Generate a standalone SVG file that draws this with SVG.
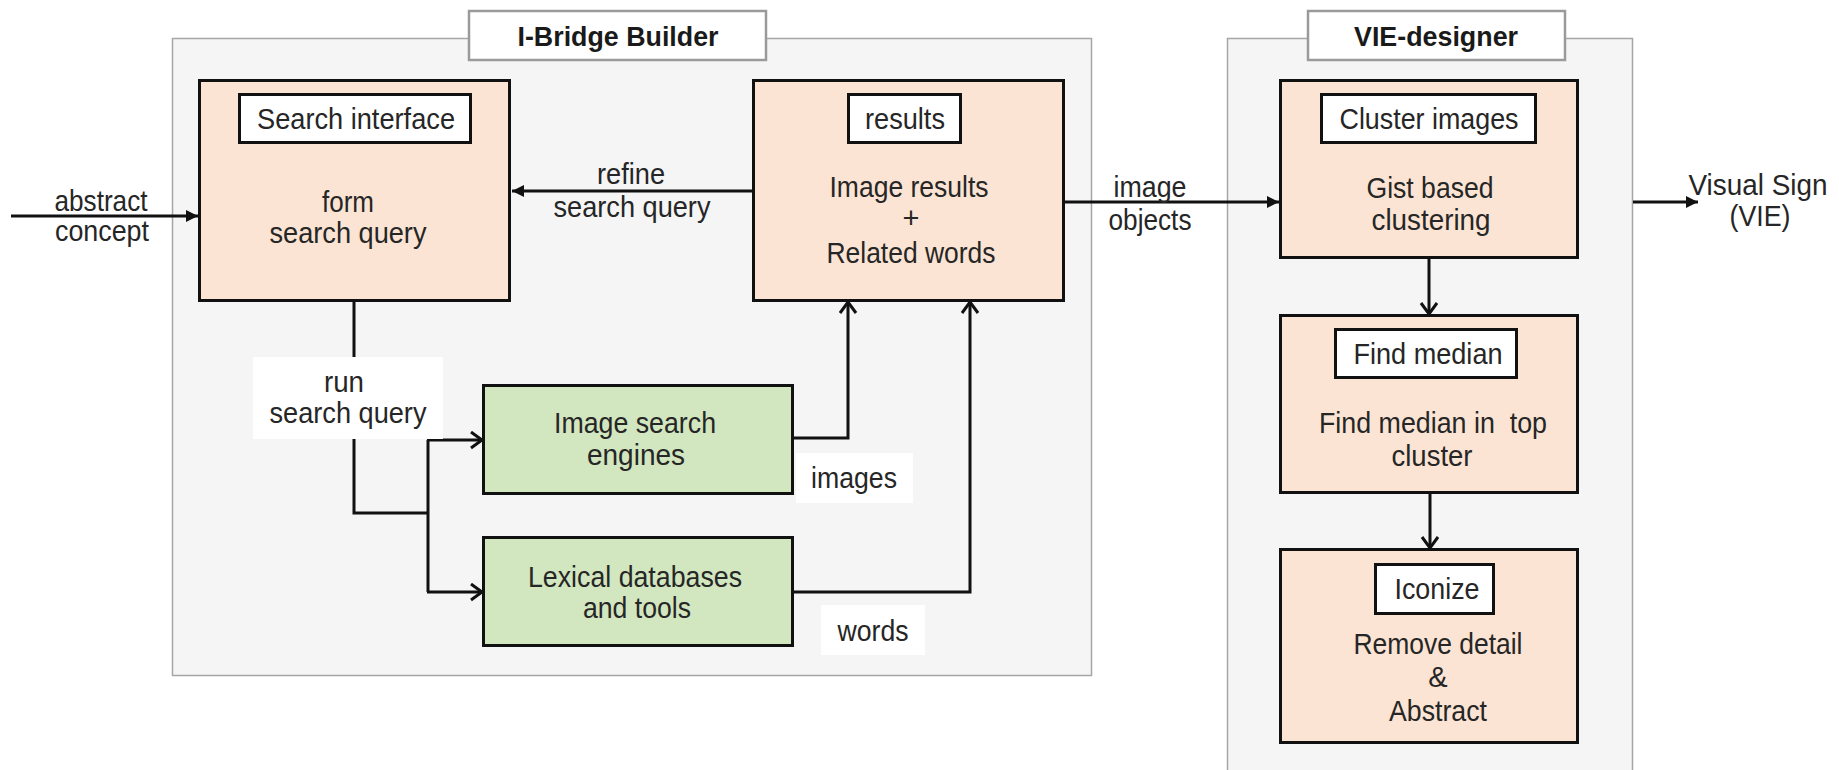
<svg xmlns="http://www.w3.org/2000/svg" width="1839" height="770" viewBox="0 0 1839 770">
<style>
.cont{fill:#f5f5f5;stroke:#a6a6a6;stroke-width:1.5}
.title{fill:#ffffff;stroke:#9a9a9a;stroke-width:2.5}
.peach{fill:#fbe4d3;stroke:#111;stroke-width:3}
.green{fill:#d2e6bf;stroke:#111;stroke-width:3}
.lbl{fill:#ffffff;stroke:#111;stroke-width:3}
.bg{fill:#ffffff;stroke:none}
.ln{fill:none;stroke:#111;stroke-width:3}
text{font-family:"Liberation Sans Narrow","Liberation Sans",Arial,sans-serif;font-size:29px;fill:#262626;text-anchor:middle}
.b{font-family:"Liberation Sans",Arial,sans-serif;font-weight:bold;font-size:27px;fill:#1a1a1a}
</style>
<defs>
<marker id="fa" markerUnits="userSpaceOnUse" markerWidth="13" markerHeight="13" refX="12" refY="6" orient="auto">
<path d="M0,0 L12,6 L0,12 z" fill="#111"/>
</marker>
<marker id="oa" markerUnits="userSpaceOnUse" markerWidth="16" markerHeight="20" refX="12" refY="9" orient="auto">
<path d="M1,1 L12,9 L1,17" fill="none" stroke="#111" stroke-width="3"/>
</marker>
</defs>

<g id="ibridge-container">
<rect class="cont" x="172.5" y="38.5" width="919" height="637"/>
<rect class="title" x="469" y="11" width="297" height="49"/>
<text class="b" x="618" y="46" textLength="201" lengthAdjust="spacingAndGlyphs">I-Bridge Builder</text>
</g>

<g id="vie-container">
<rect class="cont" x="1227.5" y="38.5" width="405" height="745"/>
<rect class="title" x="1308" y="11" width="257" height="49"/>
<text class="b" x="1436" y="46" textLength="164" lengthAdjust="spacingAndGlyphs">VIE-designer</text>
</g>

<g id="connectors">
<path class="ln" d="M11,216 H198" marker-end="url(#fa)"/>
<path class="ln" d="M752,191 H512" marker-end="url(#fa)"/>
<path class="ln" d="M1065,202 H1279" marker-end="url(#fa)"/>
<path class="ln" d="M1633,202 H1698" marker-end="url(#fa)"/>
<path class="ln" d="M354,301 V513 H428"/>
<path class="ln" d="M428,440 V592"/>
<path class="ln" d="M427,440 H482" marker-end="url(#oa)"/>
<path class="ln" d="M427,592 H482" marker-end="url(#oa)"/>
<path class="ln" d="M794,438 H848 V302" marker-end="url(#oa)"/>
<path class="ln" d="M794,592 H970 V302" marker-end="url(#oa)"/>
<path class="ln" d="M1429,259 V314" marker-end="url(#oa)"/>
<path class="ln" d="M1430,494 V548" marker-end="url(#oa)"/>
</g>

<g id="edge-labels">
<text x="101" y="211" textLength="93" lengthAdjust="spacingAndGlyphs">abstract</text>
<text x="102" y="241" textLength="94" lengthAdjust="spacingAndGlyphs">concept</text>
<text x="631" y="184" textLength="68" lengthAdjust="spacingAndGlyphs">refine</text>
<text x="632" y="217" textLength="157" lengthAdjust="spacingAndGlyphs">search query</text>
<text x="1150" y="197" textLength="73" lengthAdjust="spacingAndGlyphs">image</text>
<text x="1150" y="230" textLength="83" lengthAdjust="spacingAndGlyphs">objects</text>
<text x="1758" y="195" textLength="139" lengthAdjust="spacingAndGlyphs">Visual Sign</text>
<text x="1760" y="226" textLength="61" lengthAdjust="spacingAndGlyphs">(VIE)</text>
<rect class="bg" x="253" y="357" width="190" height="82"/>
<text x="344" y="392" textLength="40" lengthAdjust="spacingAndGlyphs">run</text>
<text x="348" y="423" textLength="157" lengthAdjust="spacingAndGlyphs">search query</text>
<rect class="bg" x="796" y="453" width="117" height="50"/>
<text x="854" y="488" textLength="86" lengthAdjust="spacingAndGlyphs">images</text>
<rect class="bg" x="821" y="605" width="104" height="50"/>
<text x="873" y="641" textLength="71" lengthAdjust="spacingAndGlyphs">words</text>
</g>

<g id="search-interface">
<rect class="peach" x="199.5" y="80.5" width="310" height="220"/>
<rect class="lbl" x="239.5" y="94.5" width="231" height="48"/>
<text x="356" y="129" textLength="198" lengthAdjust="spacingAndGlyphs">Search interface</text>
<text x="348" y="212" textLength="52" lengthAdjust="spacingAndGlyphs">form</text>
<text x="348" y="243" textLength="157" lengthAdjust="spacingAndGlyphs">search query</text>
</g>

<g id="results">
<rect class="peach" x="753.5" y="80.5" width="310" height="220"/>
<rect class="lbl" x="848.5" y="94.5" width="112" height="48"/>
<text x="905" y="129" textLength="80" lengthAdjust="spacingAndGlyphs">results</text>
<text x="909" y="197" textLength="159" lengthAdjust="spacingAndGlyphs">Image results</text>
<text x="911" y="228">+</text>
<text x="911" y="263" textLength="169" lengthAdjust="spacingAndGlyphs">Related words</text>
</g>

<g id="image-search-engines">
<rect class="green" x="483.5" y="385.5" width="309" height="108"/>
<text x="635" y="433" textLength="162" lengthAdjust="spacingAndGlyphs">Image search</text>
<text x="636" y="465" textLength="98" lengthAdjust="spacingAndGlyphs">engines</text>
</g>

<g id="lexical-databases">
<rect class="green" x="483.5" y="537.5" width="309" height="108"/>
<text x="635" y="587" textLength="214" lengthAdjust="spacingAndGlyphs">Lexical databases</text>
<text x="637" y="618" textLength="108" lengthAdjust="spacingAndGlyphs">and tools</text>
</g>

<g id="cluster-images">
<rect class="peach" x="1280.5" y="80.5" width="297" height="177"/>
<rect class="lbl" x="1321.5" y="94.5" width="214" height="48"/>
<text x="1429" y="129" textLength="179" lengthAdjust="spacingAndGlyphs">Cluster images</text>
<text x="1430" y="198" textLength="127" lengthAdjust="spacingAndGlyphs">Gist based</text>
<text x="1431" y="230" textLength="119" lengthAdjust="spacingAndGlyphs">clustering</text>
</g>

<g id="find-median">
<rect class="peach" x="1280.5" y="315.5" width="297" height="177"/>
<rect class="lbl" x="1335.5" y="329.5" width="181" height="48"/>
<text x="1428" y="364" textLength="149" lengthAdjust="spacingAndGlyphs">Find median</text>
<text x="1433" y="433" style="white-space:pre" textLength="228" lengthAdjust="spacingAndGlyphs">Find median in  top</text>
<text x="1432" y="466" textLength="81" lengthAdjust="spacingAndGlyphs">cluster</text>
</g>

<g id="iconize">
<rect class="peach" x="1280.5" y="549.5" width="297" height="193"/>
<rect class="lbl" x="1375.5" y="564.5" width="118" height="49"/>
<text x="1437" y="599" textLength="85" lengthAdjust="spacingAndGlyphs">Iconize</text>
<text x="1438" y="654" textLength="169" lengthAdjust="spacingAndGlyphs">Remove detail</text>
<text x="1438" y="687">&amp;</text>
<text x="1438" y="721" textLength="98" lengthAdjust="spacingAndGlyphs">Abstract</text>
</g>
</svg>
